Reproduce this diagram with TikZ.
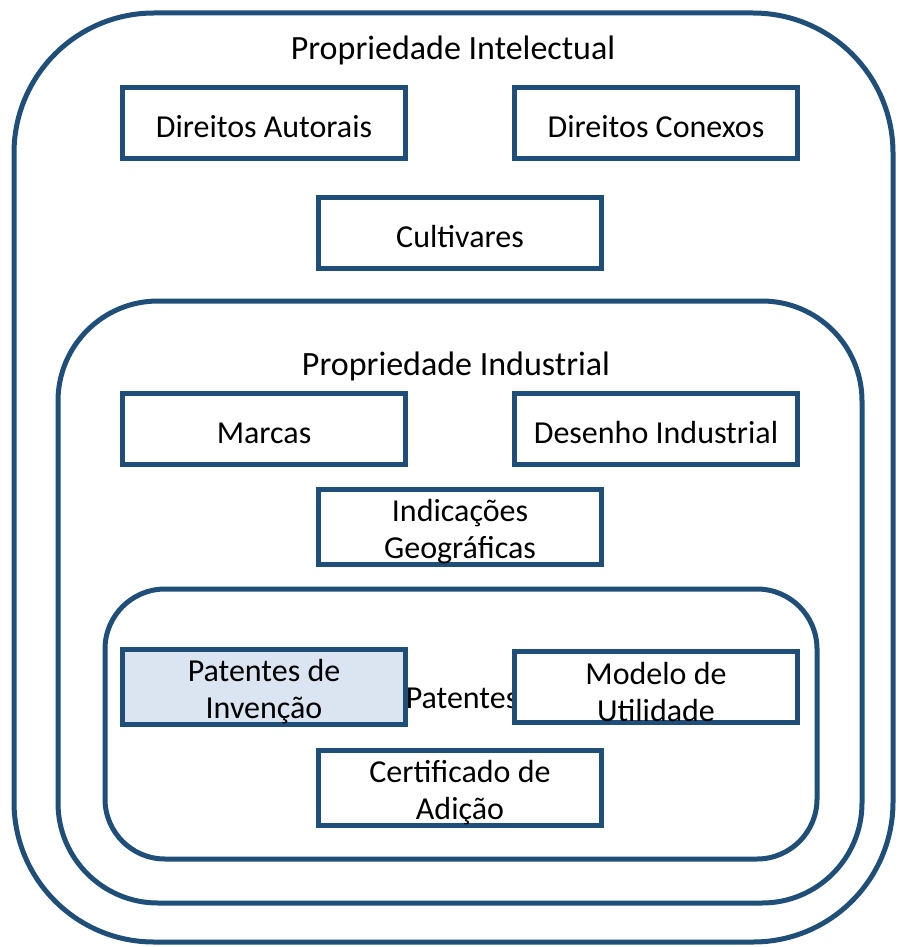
\documentclass[tikz,border=0pt]{standalone}
\usepackage{fontspec}
\setmainfont{Carlito}
\usetikzlibrary{positioning}
\definecolor{piblue}{RGB}{31,78,121}
\definecolor{pifill}{RGB}{219,228,241}
\newcommand\lift{\rule{0pt}{32pt}}

\begin{document}
\begin{tikzpicture}[x=1pt,y=-1pt,
  area/.style={draw=piblue,line width=5pt},
  box/.style={draw=piblue,line width=5pt,fill=white,minimum width=283pt,minimum height=71pt,
    align=center,font=\fontsize{32}{37}\selectfont,inner sep=0pt,
    execute at begin node={\rule{0pt}{30pt}}},
  heading/.style={font=\fontsize{34}{40}\selectfont}]
\useasboundingbox (0,0) rectangle (898,947);
% outer areas
\draw [area,rounded corners=140pt] (14,13) rectangle (893,942);
\draw [area,rounded corners=100pt] (58,301) rectangle (862,903);
\draw [area,rounded corners=60pt] (105,589) rectangle (817,859);
% titles
\node [heading] (intel) at (453,50) {Propriedade Intelectual};
\node [heading] (indus) at (456,366) {Propriedade Industrial};
\node [font=\fontsize{32}{37}\selectfont] (pat) at (462,698) {Patentes};
% Propriedade Intelectual
\node [box] (autor) at (264,123) {Direitos Autorais};
\node [box] (conex) at (656,123) {Direitos Conexos};
\node [box] (cult) at (460,233) {Cultivares};
% Propriedade Industrial
\node [box] (marca) at (264,429) {Marcas};
\node [box] (desen) at (656,429) {Desenho Industrial};
\node [box] (indic) at (460,527) {\lift Indicações\\Geográficas};
% Patentes
\node [box,fill=pifill] (inven) at (264,687) {\lift Patentes de\\Invenção};
\node [box] (model) at (656,687) {\lift Modelo de\\Utilidade};
\node [box] (certi) at (460,788) {\lift Certificado de\\Adição};
\end{tikzpicture}
\end{document}
